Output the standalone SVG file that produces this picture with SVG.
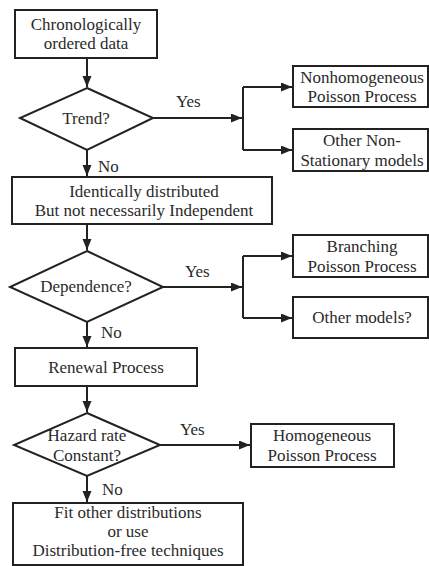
<svg xmlns="http://www.w3.org/2000/svg" width="429" height="566" viewBox="0 0 429 566" font-family="Liberation Serif" font-size="17">
<style>
.n{fill:#fff;stroke:#222;stroke-width:2}
.t{fill:#2a2a2a;text-anchor:middle}
.l{fill:#2a2a2a}
.c{fill:none;stroke:#222;stroke-width:2}
</style>
<defs>
<marker id="ah" markerUnits="userSpaceOnUse" markerWidth="12" markerHeight="10" refX="11" refY="4.5" orient="auto">
<path d="M0,0 L11,4.5 L0,9 z" fill="#222"/>
</marker>
</defs>
<rect width="429" height="566" fill="#fff"/>
<g id="connectors">
<path class="c" d="M87,58 V87" marker-end="url(#ah)"/>
<path class="c" d="M153,118 H242" marker-end="url(#ah)"/>
<path class="c" d="M243,87 V150"/>
<path class="c" d="M243,87 H292" marker-end="url(#ah)"/>
<path class="c" d="M243,150 H292" marker-end="url(#ah)"/>
<path class="c" d="M87,150 V176" marker-end="url(#ah)"/>
<path class="c" d="M87,224 V250" marker-end="url(#ah)"/>
<path class="c" d="M163,287 H242" marker-end="url(#ah)"/>
<path class="c" d="M243,256 V318"/>
<path class="c" d="M243,256 H292" marker-end="url(#ah)"/>
<path class="c" d="M243,318 H292" marker-end="url(#ah)"/>
<path class="c" d="M87,322 V347" marker-end="url(#ah)"/>
<path class="c" d="M87,386 V412" marker-end="url(#ah)"/>
<path class="c" d="M160,445 H250" marker-end="url(#ah)"/>
<path class="c" d="M87,476 V502" marker-end="url(#ah)"/>
<text class="l" x="176" y="107">Yes</text>
<text class="l" x="98" y="172">No</text>
<text class="l" x="185" y="277">Yes</text>
<text class="l" x="101" y="338">No</text>
<text class="l" x="180" y="435">Yes</text>
<text class="l" x="102" y="495">No</text>
</g>
<g id="start">
<rect class="n" x="15" y="10" width="142" height="48"/>
<text class="t" x="86" y="30">Chronologically</text>
<text class="t" x="86" y="49">ordered data</text>
</g>
<g id="trend">
<path class="n" d="M87,88 L153,118 L87,150 L20,118 Z"/>
<text class="t" x="86" y="124">Trend?</text>
</g>
<g id="nhpp">
<rect class="n" x="293" y="66" width="135" height="41"/>
<text class="t" x="362" y="83">Nonhomogeneous</text>
<text class="t" x="362" y="102">Poisson Process</text>
</g>
<g id="nonstationary">
<rect class="n" x="293" y="129" width="135" height="42"/>
<text class="t" x="362" y="146">Other Non-</text>
<text class="t" x="362" y="166">Stationary models</text>
</g>
<g id="identical">
<rect class="n" x="12" y="177" width="260" height="47"/>
<text class="t" x="144" y="197">Identically distributed</text>
<text class="t" x="144" y="216">But not necessarily Independent</text>
</g>
<g id="dependence">
<path class="n" d="M87,251 L163,287 L87,322 L10,287 Z"/>
<text class="t" x="86" y="292">Dependence?</text>
</g>
<g id="branching">
<rect class="n" x="293" y="235" width="135" height="42"/>
<text class="t" x="362" y="252">Branching</text>
<text class="t" x="362" y="272">Poisson Process</text>
</g>
<g id="othermodels">
<rect class="n" x="293" y="297" width="135" height="41"/>
<text class="t" x="362" y="323">Other models?</text>
</g>
<g id="renewal">
<rect class="n" x="15" y="348" width="182" height="38"/>
<text class="t" x="106" y="373">Renewal Process</text>
</g>
<g id="hazard">
<path class="n" d="M87,413 L160,445 L87,476 L14,445 Z"/>
<text class="t" x="87" y="441">Hazard rate</text>
<text class="t" x="87" y="461">Constant?</text>
</g>
<g id="hpp">
<rect class="n" x="251" y="424" width="143" height="43"/>
<text class="t" x="322" y="441">Homogeneous</text>
<text class="t" x="322" y="461">Poisson Process</text>
</g>
<g id="fit">
<rect class="n" x="13" y="503" width="230" height="62"/>
<text class="t" x="128" y="518">Fit other distributions</text>
<text class="t" x="128" y="537">or use</text>
<text class="t" x="128" y="556">Distribution-free techniques</text>
</g>
</svg>
